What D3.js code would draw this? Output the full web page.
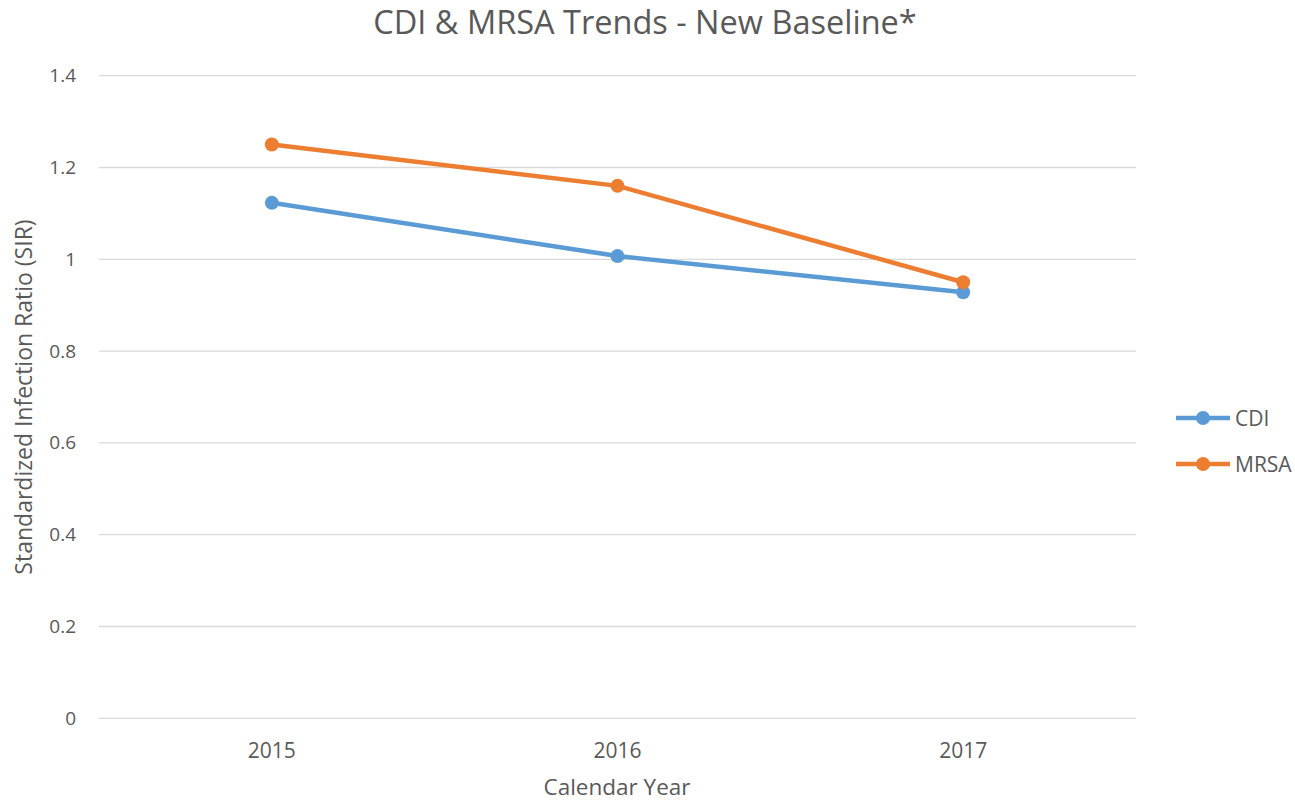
<!DOCTYPE html>
<html>
<head>
<meta charset="utf-8">
<script src="https://cdn.jsdelivr.net/npm/d3@7"></script>
<style>
  body { margin: 0; background: #fff; }
  text { font-family: "Open Sans", sans-serif; fill: #595959; }
</style>
</head>
<body>
<svg id="chart" width="1295" height="801"></svg>
<script>
const years = ['2015', '2016', '2017'];
const cdiValues = [1.123, 1.007, 0.928];
const mrsaValues = [1.25, 1.16, 0.95];
const yTicks = [0, 0.2, 0.4, 0.6, 0.8, 1, 1.2, 1.4];
const seriesNames = ['CDI', 'MRSA'];
const seriesColors = ['#5B9BD5', '#ED7D31'];

function drawChart() {
  let svg = d3.select('#chart');
  let left = 99, right = 1136, top = 75.7, bottom = 718.3;

  let x = d3.scaleBand().domain(years).range([left, right]);
  let y = d3.scaleLinear().domain([0, 1.4]).range([bottom, top]);

  // gridlines
  svg.append('g').selectAll('line').data(yTicks).join('line')
    .attr('x1', left).attr('x2', right)
    .attr('y1', d => y(d)).attr('y2', d => y(d))
    .attr('stroke', '#d9d9d9').attr('stroke-width', 1.3);

  // y tick labels
  svg.append('g').selectAll('text').data(yTicks).join('text')
    .attr('x', 76).attr('y', d => y(d) + 6.5)
    .attr('text-anchor', 'end')
    .style('font-size', '19px')
    .text(d => d);

  // x tick labels
  svg.append('g').selectAll('text').data(years).join('text')
    .attr('x', d => x(d) + x.bandwidth() / 2).attr('y', 758)
    .attr('text-anchor', 'middle')
    .style('font-size', '21px')
    .text(d => d);

  // title + axis titles
  svg.append('text').attr('x', 645).attr('y', 34).attr('text-anchor', 'middle')
    .style('font-size', '32.5px').text('CDI & MRSA Trends - New Baseline*');
  svg.append('text').attr('x', 617).attr('y', 794.5).attr('text-anchor', 'middle')
    .style('font-size', '22.5px').text('Calendar Year');
  svg.append('text').attr('transform', 'translate(32,397) rotate(-90)')
    .attr('text-anchor', 'middle')
    .style('font-size', '23px').text('Standardized Infection Ratio (SIR)');

  let line = d3.line().x((d, i) => x(years[i]) + x.bandwidth() / 2).y(d => y(d));
  let allSeries = [cdiValues, mrsaValues];

  allSeries.forEach((values, s) => {
    let g = svg.append('g');
    g.append('path').datum(values)
      .attr('d', line).attr('fill', 'none')
      .attr('stroke', seriesColors[s]).attr('stroke-width', 4.5)
      .attr('stroke-linejoin', 'round');
    g.selectAll('circle').data(values).join('circle')
      .attr('cx', (d, i) => x(years[i]) + x.bandwidth() / 2)
      .attr('cy', d => y(d)).attr('r', 7)
      .attr('fill', seriesColors[s]);
  });

  // legend
  let legend = svg.append('g').selectAll('g').data(seriesNames).join('g')
    .attr('transform', (d, i) => `translate(1176,${418 + i * 46})`);
  legend.append('line').attr('x1', 0).attr('x2', 54)
    .attr('stroke', (d, i) => seriesColors[i]).attr('stroke-width', 4.5);
  legend.append('circle').attr('cx', 27).attr('r', 7)
    .attr('fill', (d, i) => seriesColors[i]);
  legend.append('text').attr('x', 59).attr('y', 7.5)
    .style('font-size', '21px').text(d => d);
}

drawChart();
</script>
</body>
</html>
